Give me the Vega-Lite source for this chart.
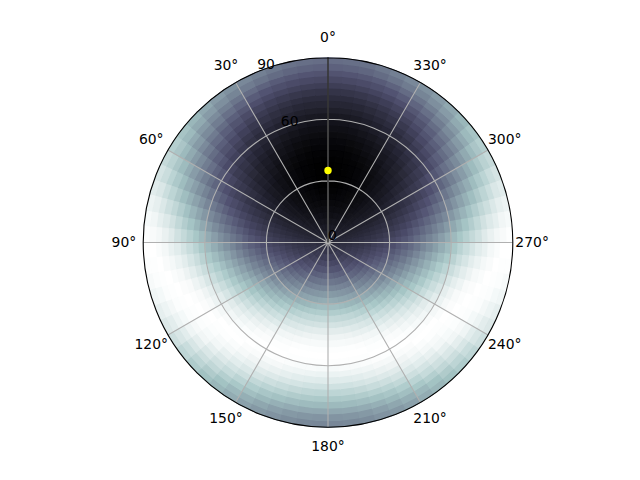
{
"$schema": "https://vega.github.io/schema/vega-lite/v6.json",
"width": 656, "height": 485,
"autosize": {"type": "none"},
"padding": 0,
"background": "white",
"config": {"view": {"stroke": null}, "font": "DejaVu Sans"},
"datasets": {
"cellsA": [
{"a":-5,"b":5,"r":0,"s":6,"v":16},{"a":-5,"b":5,"r":6,"s":12,"v":11},{"a":-5,"b":5,"r":12,"s":18,"v":6},{"a":-5,"b":5,"r":18,"s":24,"v":3},{"a":-5,"b":5,"r":24,"s":30,"v":1},{"a":-5,"b":5,"r":30,"s":36,"v":0},{"a":-5,"b":5,"r":36,"s":42,"v":0},{"a":-5,"b":5,"r":42,"s":48,"v":2},{"a":-5,"b":5,"r":48,"s":54,"v":4},{"a":-5,"b":5,"r":54,"s":60,"v":8},{"a":-5,"b":5,"r":60,"s":66,"v":12},{"a":-5,"b":5,"r":66,"s":72,"v":19},{"a":-5,"b":5,"r":72,"s":78,"v":26},{"a":-5,"b":5,"r":78,"s":84,"v":35},{"a":-5,"b":5,"r":84,"s":90,"v":45},
{"a":5,"b":15,"r":0,"s":6,"v":16},{"a":5,"b":15,"r":6,"s":12,"v":11},{"a":5,"b":15,"r":12,"s":18,"v":6},{"a":5,"b":15,"r":18,"s":24,"v":3},{"a":5,"b":15,"r":24,"s":30,"v":1},{"a":5,"b":15,"r":30,"s":36,"v":1},{"a":5,"b":15,"r":36,"s":42,"v":1},{"a":5,"b":15,"r":42,"s":48,"v":2},{"a":5,"b":15,"r":48,"s":54,"v":5},{"a":5,"b":15,"r":54,"s":60,"v":8},{"a":5,"b":15,"r":60,"s":66,"v":13},{"a":5,"b":15,"r":66,"s":72,"v":19},{"a":5,"b":15,"r":72,"s":78,"v":27},{"a":5,"b":15,"r":78,"s":84,"v":36},{"a":5,"b":15,"r":84,"s":90,"v":46},
{"a":15,"b":25,"r":0,"s":6,"v":17},{"a":15,"b":25,"r":6,"s":12,"v":11},{"a":15,"b":25,"r":12,"s":18,"v":7},{"a":15,"b":25,"r":18,"s":24,"v":4},{"a":15,"b":25,"r":24,"s":30,"v":3},{"a":15,"b":25,"r":30,"s":36,"v":2},{"a":15,"b":25,"r":36,"s":42,"v":2},{"a":15,"b":25,"r":42,"s":48,"v":4},{"a":15,"b":25,"r":48,"s":54,"v":7},{"a":15,"b":25,"r":54,"s":60,"v":11},{"a":15,"b":25,"r":60,"s":66,"v":16},{"a":15,"b":25,"r":66,"s":72,"v":22},{"a":15,"b":25,"r":72,"s":78,"v":30},{"a":15,"b":25,"r":78,"s":84,"v":39},{"a":15,"b":25,"r":84,"s":90,"v":50},
{"a":25,"b":35,"r":0,"s":6,"v":17},{"a":25,"b":35,"r":6,"s":12,"v":12},{"a":25,"b":35,"r":12,"s":18,"v":8},{"a":25,"b":35,"r":18,"s":24,"v":6},{"a":25,"b":35,"r":24,"s":30,"v":5},{"a":25,"b":35,"r":30,"s":36,"v":4},{"a":25,"b":35,"r":36,"s":42,"v":5},{"a":25,"b":35,"r":42,"s":48,"v":7},{"a":25,"b":35,"r":48,"s":54,"v":10},{"a":25,"b":35,"r":54,"s":60,"v":15},{"a":25,"b":35,"r":60,"s":66,"v":20},{"a":25,"b":35,"r":66,"s":72,"v":27},{"a":25,"b":35,"r":72,"s":78,"v":35},{"a":25,"b":35,"r":78,"s":84,"v":45},{"a":25,"b":35,"r":84,"s":90,"v":55},
{"a":35,"b":45,"r":0,"s":6,"v":17},{"a":35,"b":45,"r":6,"s":12,"v":13},{"a":35,"b":45,"r":12,"s":18,"v":10},{"a":35,"b":45,"r":18,"s":24,"v":8},{"a":35,"b":45,"r":24,"s":30,"v":7},{"a":35,"b":45,"r":30,"s":36,"v":8},{"a":35,"b":45,"r":36,"s":42,"v":9},{"a":35,"b":45,"r":42,"s":48,"v":12},{"a":35,"b":45,"r":48,"s":54,"v":15},{"a":35,"b":45,"r":54,"s":60,"v":20},{"a":35,"b":45,"r":60,"s":66,"v":26},{"a":35,"b":45,"r":66,"s":72,"v":34},{"a":35,"b":45,"r":72,"s":78,"v":42},{"a":35,"b":45,"r":78,"s":84,"v":52},{"a":35,"b":45,"r":84,"s":90,"v":62},
{"a":45,"b":55,"r":0,"s":6,"v":18},{"a":45,"b":55,"r":6,"s":12,"v":14},{"a":45,"b":55,"r":12,"s":18,"v":12},{"a":45,"b":55,"r":18,"s":24,"v":11},{"a":45,"b":55,"r":24,"s":30,"v":11},{"a":45,"b":55,"r":30,"s":36,"v":12},{"a":45,"b":55,"r":36,"s":42,"v":14},{"a":45,"b":55,"r":42,"s":48,"v":17},{"a":45,"b":55,"r":48,"s":54,"v":22},{"a":45,"b":55,"r":54,"s":60,"v":27},{"a":45,"b":55,"r":60,"s":66,"v":34},{"a":45,"b":55,"r":66,"s":72,"v":42},{"a":45,"b":55,"r":72,"s":78,"v":51},{"a":45,"b":55,"r":78,"s":84,"v":61},{"a":45,"b":55,"r":84,"s":90,"v":71},
{"a":55,"b":65,"r":0,"s":6,"v":18},{"a":55,"b":65,"r":6,"s":12,"v":16},{"a":55,"b":65,"r":12,"s":18,"v":14},{"a":55,"b":65,"r":18,"s":24,"v":14},{"a":55,"b":65,"r":24,"s":30,"v":15},{"a":55,"b":65,"r":30,"s":36,"v":17},{"a":55,"b":65,"r":36,"s":42,"v":20},{"a":55,"b":65,"r":42,"s":48,"v":24},{"a":55,"b":65,"r":48,"s":54,"v":29},{"a":55,"b":65,"r":54,"s":60,"v":36},{"a":55,"b":65,"r":60,"s":66,"v":43},{"a":55,"b":65,"r":66,"s":72,"v":52},{"a":55,"b":65,"r":72,"s":78,"v":61},{"a":55,"b":65,"r":78,"s":84,"v":71},{"a":55,"b":65,"r":84,"s":90,"v":80},
{"a":65,"b":75,"r":0,"s":6,"v":19},{"a":65,"b":75,"r":6,"s":12,"v":17},{"a":65,"b":75,"r":12,"s":18,"v":17},{"a":65,"b":75,"r":18,"s":24,"v":18},{"a":65,"b":75,"r":24,"s":30,"v":20},{"a":65,"b":75,"r":30,"s":36,"v":23},{"a":65,"b":75,"r":36,"s":42,"v":27},{"a":65,"b":75,"r":42,"s":48,"v":32},{"a":65,"b":75,"r":48,"s":54,"v":38},{"a":65,"b":75,"r":54,"s":60,"v":46},{"a":65,"b":75,"r":60,"s":66,"v":54},{"a":65,"b":75,"r":66,"s":72,"v":63},{"a":65,"b":75,"r":72,"s":78,"v":72},{"a":65,"b":75,"r":78,"s":84,"v":81},{"a":65,"b":75,"r":84,"s":90,"v":89},
{"a":75,"b":85,"r":0,"s":6,"v":19},{"a":75,"b":85,"r":6,"s":12,"v":19},{"a":75,"b":85,"r":12,"s":18,"v":20},{"a":75,"b":85,"r":18,"s":24,"v":22},{"a":75,"b":85,"r":24,"s":30,"v":25},{"a":75,"b":85,"r":30,"s":36,"v":29},{"a":75,"b":85,"r":36,"s":42,"v":34},{"a":75,"b":85,"r":42,"s":48,"v":41},{"a":75,"b":85,"r":48,"s":54,"v":48},{"a":75,"b":85,"r":54,"s":60,"v":56},{"a":75,"b":85,"r":60,"s":66,"v":65},{"a":75,"b":85,"r":66,"s":72,"v":74},{"a":75,"b":85,"r":72,"s":78,"v":83},{"a":75,"b":85,"r":78,"s":84,"v":90},{"a":75,"b":85,"r":84,"s":90,"v":96},
{"a":85,"b":95,"r":0,"s":6,"v":20},{"a":85,"b":95,"r":6,"s":12,"v":21},{"a":85,"b":95,"r":12,"s":18,"v":23},{"a":85,"b":95,"r":18,"s":24,"v":26},{"a":85,"b":95,"r":24,"s":30,"v":30},{"a":85,"b":95,"r":30,"s":36,"v":36},{"a":85,"b":95,"r":36,"s":42,"v":42},{"a":85,"b":95,"r":42,"s":48,"v":50},{"a":85,"b":95,"r":48,"s":54,"v":58},{"a":85,"b":95,"r":54,"s":60,"v":67},{"a":85,"b":95,"r":60,"s":66,"v":76},{"a":85,"b":95,"r":66,"s":72,"v":84},{"a":85,"b":95,"r":72,"s":78,"v":91},{"a":85,"b":95,"r":78,"s":84,"v":97},{"a":85,"b":95,"r":84,"s":90,"v":100},
{"a":95,"b":105,"r":0,"s":6,"v":20},{"a":95,"b":105,"r":6,"s":12,"v":23},{"a":95,"b":105,"r":12,"s":18,"v":26},{"a":95,"b":105,"r":18,"s":24,"v":31},{"a":95,"b":105,"r":24,"s":30,"v":36},{"a":95,"b":105,"r":30,"s":36,"v":43},{"a":95,"b":105,"r":36,"s":42,"v":50},{"a":95,"b":105,"r":42,"s":48,"v":59},{"a":95,"b":105,"r":48,"s":54,"v":68},{"a":95,"b":105,"r":54,"s":60,"v":77},{"a":95,"b":105,"r":60,"s":66,"v":85},{"a":95,"b":105,"r":66,"s":72,"v":92},{"a":95,"b":105,"r":72,"s":78,"v":97},{"a":95,"b":105,"r":78,"s":84,"v":100},{"a":95,"b":105,"r":84,"s":90,"v":99},
{"a":105,"b":115,"r":0,"s":6,"v":21},{"a":105,"b":115,"r":6,"s":12,"v":25},{"a":105,"b":115,"r":12,"s":18,"v":29},{"a":105,"b":115,"r":18,"s":24,"v":35},{"a":105,"b":115,"r":24,"s":30,"v":42},{"a":105,"b":115,"r":30,"s":36,"v":50},{"a":105,"b":115,"r":36,"s":42,"v":58},{"a":105,"b":115,"r":42,"s":48,"v":67},{"a":105,"b":115,"r":48,"s":54,"v":77},{"a":105,"b":115,"r":54,"s":60,"v":85},{"a":105,"b":115,"r":60,"s":66,"v":93},{"a":105,"b":115,"r":66,"s":72,"v":98},{"a":105,"b":115,"r":72,"s":78,"v":100},{"a":105,"b":115,"r":78,"s":84,"v":99},{"a":105,"b":115,"r":84,"s":90,"v":95},
{"a":115,"b":125,"r":0,"s":6,"v":22},{"a":115,"b":125,"r":6,"s":12,"v":26},{"a":115,"b":125,"r":12,"s":18,"v":32},{"a":115,"b":125,"r":18,"s":24,"v":39},{"a":115,"b":125,"r":24,"s":30,"v":47},{"a":115,"b":125,"r":30,"s":36,"v":56},{"a":115,"b":125,"r":36,"s":42,"v":66},{"a":115,"b":125,"r":42,"s":48,"v":75},{"a":115,"b":125,"r":48,"s":54,"v":84},{"a":115,"b":125,"r":54,"s":60,"v":92},{"a":115,"b":125,"r":60,"s":66,"v":97},{"a":115,"b":125,"r":66,"s":72,"v":100},{"a":115,"b":125,"r":72,"s":78,"v":99},{"a":115,"b":125,"r":78,"s":84,"v":95},{"a":115,"b":125,"r":84,"s":90,"v":89},
{"a":125,"b":135,"r":0,"s":6,"v":22},{"a":125,"b":135,"r":6,"s":12,"v":28},{"a":125,"b":135,"r":12,"s":18,"v":35},{"a":125,"b":135,"r":18,"s":24,"v":43},{"a":125,"b":135,"r":24,"s":30,"v":52},{"a":125,"b":135,"r":30,"s":36,"v":62},{"a":125,"b":135,"r":36,"s":42,"v":72},{"a":125,"b":135,"r":42,"s":48,"v":82},{"a":125,"b":135,"r":48,"s":54,"v":90},{"a":125,"b":135,"r":54,"s":60,"v":96},{"a":125,"b":135,"r":60,"s":66,"v":100},{"a":125,"b":135,"r":66,"s":72,"v":99},{"a":125,"b":135,"r":72,"s":78,"v":96},{"a":125,"b":135,"r":78,"s":84,"v":89},{"a":125,"b":135,"r":84,"s":90,"v":81},
{"a":135,"b":145,"r":0,"s":6,"v":23},{"a":135,"b":145,"r":6,"s":12,"v":29},{"a":135,"b":145,"r":12,"s":18,"v":37},{"a":135,"b":145,"r":18,"s":24,"v":46},{"a":135,"b":145,"r":24,"s":30,"v":56},{"a":135,"b":145,"r":30,"s":36,"v":67},{"a":135,"b":145,"r":36,"s":42,"v":77},{"a":135,"b":145,"r":42,"s":48,"v":87},{"a":135,"b":145,"r":48,"s":54,"v":94},{"a":135,"b":145,"r":54,"s":60,"v":99},{"a":135,"b":145,"r":60,"s":66,"v":100},{"a":135,"b":145,"r":66,"s":72,"v":97},{"a":135,"b":145,"r":72,"s":78,"v":91},{"a":135,"b":145,"r":78,"s":84,"v":83},{"a":135,"b":145,"r":84,"s":90,"v":73},
{"a":145,"b":155,"r":0,"s":6,"v":23},{"a":145,"b":155,"r":6,"s":12,"v":30},{"a":145,"b":155,"r":12,"s":18,"v":39},{"a":145,"b":155,"r":18,"s":24,"v":49},{"a":145,"b":155,"r":24,"s":30,"v":59},{"a":145,"b":155,"r":30,"s":36,"v":70},{"a":145,"b":155,"r":36,"s":42,"v":81},{"a":145,"b":155,"r":42,"s":48,"v":90},{"a":145,"b":155,"r":48,"s":54,"v":97},{"a":145,"b":155,"r":54,"s":60,"v":100},{"a":145,"b":155,"r":60,"s":66,"v":99},{"a":145,"b":155,"r":66,"s":72,"v":94},{"a":145,"b":155,"r":72,"s":78,"v":87},{"a":145,"b":155,"r":78,"s":84,"v":77},{"a":145,"b":155,"r":84,"s":90,"v":66},
{"a":155,"b":165,"r":0,"s":6,"v":23},{"a":155,"b":165,"r":6,"s":12,"v":31},{"a":155,"b":165,"r":12,"s":18,"v":40},{"a":155,"b":165,"r":18,"s":24,"v":51},{"a":155,"b":165,"r":24,"s":30,"v":62},{"a":155,"b":165,"r":30,"s":36,"v":73},{"a":155,"b":165,"r":36,"s":42,"v":84},{"a":155,"b":165,"r":42,"s":48,"v":92},{"a":155,"b":165,"r":48,"s":54,"v":98},{"a":155,"b":165,"r":54,"s":60,"v":100},{"a":155,"b":165,"r":60,"s":66,"v":98},{"a":155,"b":165,"r":66,"s":72,"v":92},{"a":155,"b":165,"r":72,"s":78,"v":83},{"a":155,"b":165,"r":78,"s":84,"v":72},{"a":155,"b":165,"r":84,"s":90,"v":61},
{"a":165,"b":175,"r":0,"s":6,"v":23},{"a":165,"b":175,"r":6,"s":12,"v":32},{"a":165,"b":175,"r":12,"s":18,"v":41},{"a":165,"b":175,"r":18,"s":24,"v":52},{"a":165,"b":175,"r":24,"s":30,"v":63},{"a":165,"b":175,"r":30,"s":36,"v":75},{"a":165,"b":175,"r":36,"s":42,"v":85},{"a":165,"b":175,"r":42,"s":48,"v":94},{"a":165,"b":175,"r":48,"s":54,"v":99},{"a":165,"b":175,"r":54,"s":60,"v":100},{"a":165,"b":175,"r":60,"s":66,"v":97},{"a":165,"b":175,"r":66,"s":72,"v":90},{"a":165,"b":175,"r":72,"s":78,"v":80},{"a":165,"b":175,"r":78,"s":84,"v":69},{"a":165,"b":175,"r":84,"s":90,"v":57},
{"a":175,"b":185,"r":0,"s":6,"v":23},{"a":175,"b":185,"r":6,"s":12,"v":32},{"a":175,"b":185,"r":12,"s":18,"v":42},{"a":175,"b":185,"r":18,"s":24,"v":52},{"a":175,"b":185,"r":24,"s":30,"v":64},{"a":175,"b":185,"r":30,"s":36,"v":75},{"a":175,"b":185,"r":36,"s":42,"v":86},{"a":175,"b":185,"r":42,"s":48,"v":94},{"a":175,"b":185,"r":48,"s":54,"v":99},{"a":175,"b":185,"r":54,"s":60,"v":100},{"a":175,"b":185,"r":60,"s":66,"v":96},{"a":175,"b":185,"r":66,"s":72,"v":89},{"a":175,"b":185,"r":72,"s":78,"v":79},{"a":175,"b":185,"r":78,"s":84,"v":68},{"a":175,"b":185,"r":84,"s":90,"v":56},
{"a":185,"b":195,"r":0,"s":6,"v":23},{"a":185,"b":195,"r":6,"s":12,"v":32},{"a":185,"b":195,"r":12,"s":18,"v":41},{"a":185,"b":195,"r":18,"s":24,"v":52},{"a":185,"b":195,"r":24,"s":30,"v":63},{"a":185,"b":195,"r":30,"s":36,"v":75},{"a":185,"b":195,"r":36,"s":42,"v":85},{"a":185,"b":195,"r":42,"s":48,"v":94},{"a":185,"b":195,"r":48,"s":54,"v":99},{"a":185,"b":195,"r":54,"s":60,"v":100},{"a":185,"b":195,"r":60,"s":66,"v":97},{"a":185,"b":195,"r":66,"s":72,"v":90},{"a":185,"b":195,"r":72,"s":78,"v":80},{"a":185,"b":195,"r":78,"s":84,"v":69},{"a":185,"b":195,"r":84,"s":90,"v":57},
{"a":195,"b":205,"r":0,"s":6,"v":23},{"a":195,"b":205,"r":6,"s":12,"v":31},{"a":195,"b":205,"r":12,"s":18,"v":40},{"a":195,"b":205,"r":18,"s":24,"v":51},{"a":195,"b":205,"r":24,"s":30,"v":62},{"a":195,"b":205,"r":30,"s":36,"v":73},{"a":195,"b":205,"r":36,"s":42,"v":84},{"a":195,"b":205,"r":42,"s":48,"v":92},{"a":195,"b":205,"r":48,"s":54,"v":98},{"a":195,"b":205,"r":54,"s":60,"v":100},{"a":195,"b":205,"r":60,"s":66,"v":98},{"a":195,"b":205,"r":66,"s":72,"v":92},{"a":195,"b":205,"r":72,"s":78,"v":83},{"a":195,"b":205,"r":78,"s":84,"v":72},{"a":195,"b":205,"r":84,"s":90,"v":61},
{"a":205,"b":215,"r":0,"s":6,"v":23},{"a":205,"b":215,"r":6,"s":12,"v":30},{"a":205,"b":215,"r":12,"s":18,"v":39},{"a":205,"b":215,"r":18,"s":24,"v":49},{"a":205,"b":215,"r":24,"s":30,"v":59},{"a":205,"b":215,"r":30,"s":36,"v":70},{"a":205,"b":215,"r":36,"s":42,"v":81},{"a":205,"b":215,"r":42,"s":48,"v":90},{"a":205,"b":215,"r":48,"s":54,"v":97},{"a":205,"b":215,"r":54,"s":60,"v":100},{"a":205,"b":215,"r":60,"s":66,"v":99},{"a":205,"b":215,"r":66,"s":72,"v":94},{"a":205,"b":215,"r":72,"s":78,"v":87},{"a":205,"b":215,"r":78,"s":84,"v":77},{"a":205,"b":215,"r":84,"s":90,"v":66},
{"a":215,"b":225,"r":0,"s":6,"v":23},{"a":215,"b":225,"r":6,"s":12,"v":29},{"a":215,"b":225,"r":12,"s":18,"v":37},{"a":215,"b":225,"r":18,"s":24,"v":46},{"a":215,"b":225,"r":24,"s":30,"v":56},{"a":215,"b":225,"r":30,"s":36,"v":67},{"a":215,"b":225,"r":36,"s":42,"v":77},{"a":215,"b":225,"r":42,"s":48,"v":87},{"a":215,"b":225,"r":48,"s":54,"v":94},{"a":215,"b":225,"r":54,"s":60,"v":99},{"a":215,"b":225,"r":60,"s":66,"v":100},{"a":215,"b":225,"r":66,"s":72,"v":97},{"a":215,"b":225,"r":72,"s":78,"v":91},{"a":215,"b":225,"r":78,"s":84,"v":83},{"a":215,"b":225,"r":84,"s":90,"v":73},
{"a":225,"b":235,"r":0,"s":6,"v":22},{"a":225,"b":235,"r":6,"s":12,"v":28},{"a":225,"b":235,"r":12,"s":18,"v":35},{"a":225,"b":235,"r":18,"s":24,"v":43},{"a":225,"b":235,"r":24,"s":30,"v":52},{"a":225,"b":235,"r":30,"s":36,"v":62},{"a":225,"b":235,"r":36,"s":42,"v":72},{"a":225,"b":235,"r":42,"s":48,"v":82},{"a":225,"b":235,"r":48,"s":54,"v":90},{"a":225,"b":235,"r":54,"s":60,"v":96},{"a":225,"b":235,"r":60,"s":66,"v":100},{"a":225,"b":235,"r":66,"s":72,"v":99},{"a":225,"b":235,"r":72,"s":78,"v":96},{"a":225,"b":235,"r":78,"s":84,"v":89},{"a":225,"b":235,"r":84,"s":90,"v":81},
{"a":235,"b":245,"r":0,"s":6,"v":22},{"a":235,"b":245,"r":6,"s":12,"v":26},{"a":235,"b":245,"r":12,"s":18,"v":32},{"a":235,"b":245,"r":18,"s":24,"v":39},{"a":235,"b":245,"r":24,"s":30,"v":47},{"a":235,"b":245,"r":30,"s":36,"v":56},{"a":235,"b":245,"r":36,"s":42,"v":66},{"a":235,"b":245,"r":42,"s":48,"v":75},{"a":235,"b":245,"r":48,"s":54,"v":84},{"a":235,"b":245,"r":54,"s":60,"v":92},{"a":235,"b":245,"r":60,"s":66,"v":97},{"a":235,"b":245,"r":66,"s":72,"v":100},{"a":235,"b":245,"r":72,"s":78,"v":99},{"a":235,"b":245,"r":78,"s":84,"v":95},{"a":235,"b":245,"r":84,"s":90,"v":89},
{"a":245,"b":255,"r":0,"s":6,"v":21},{"a":245,"b":255,"r":6,"s":12,"v":25},{"a":245,"b":255,"r":12,"s":18,"v":29},{"a":245,"b":255,"r":18,"s":24,"v":35},{"a":245,"b":255,"r":24,"s":30,"v":42},{"a":245,"b":255,"r":30,"s":36,"v":50},{"a":245,"b":255,"r":36,"s":42,"v":58},{"a":245,"b":255,"r":42,"s":48,"v":67},{"a":245,"b":255,"r":48,"s":54,"v":77},{"a":245,"b":255,"r":54,"s":60,"v":85},{"a":245,"b":255,"r":60,"s":66,"v":93},{"a":245,"b":255,"r":66,"s":72,"v":98},{"a":245,"b":255,"r":72,"s":78,"v":100},{"a":245,"b":255,"r":78,"s":84,"v":99},{"a":245,"b":255,"r":84,"s":90,"v":95},
{"a":255,"b":265,"r":0,"s":6,"v":20},{"a":255,"b":265,"r":6,"s":12,"v":23},{"a":255,"b":265,"r":12,"s":18,"v":26},{"a":255,"b":265,"r":18,"s":24,"v":31},{"a":255,"b":265,"r":24,"s":30,"v":36},{"a":255,"b":265,"r":30,"s":36,"v":43},{"a":255,"b":265,"r":36,"s":42,"v":50},{"a":255,"b":265,"r":42,"s":48,"v":59},{"a":255,"b":265,"r":48,"s":54,"v":68},{"a":255,"b":265,"r":54,"s":60,"v":77},{"a":255,"b":265,"r":60,"s":66,"v":85},{"a":255,"b":265,"r":66,"s":72,"v":92},{"a":255,"b":265,"r":72,"s":78,"v":97},{"a":255,"b":265,"r":78,"s":84,"v":100},{"a":255,"b":265,"r":84,"s":90,"v":99},
{"a":265,"b":275,"r":0,"s":6,"v":20},{"a":265,"b":275,"r":6,"s":12,"v":21},{"a":265,"b":275,"r":12,"s":18,"v":23},{"a":265,"b":275,"r":18,"s":24,"v":26},{"a":265,"b":275,"r":24,"s":30,"v":30},{"a":265,"b":275,"r":30,"s":36,"v":36},{"a":265,"b":275,"r":36,"s":42,"v":42},{"a":265,"b":275,"r":42,"s":48,"v":50},{"a":265,"b":275,"r":48,"s":54,"v":58},{"a":265,"b":275,"r":54,"s":60,"v":67},{"a":265,"b":275,"r":60,"s":66,"v":76},{"a":265,"b":275,"r":66,"s":72,"v":84},{"a":265,"b":275,"r":72,"s":78,"v":91},{"a":265,"b":275,"r":78,"s":84,"v":97},{"a":265,"b":275,"r":84,"s":90,"v":100},
{"a":275,"b":285,"r":0,"s":6,"v":19},{"a":275,"b":285,"r":6,"s":12,"v":19},{"a":275,"b":285,"r":12,"s":18,"v":20},{"a":275,"b":285,"r":18,"s":24,"v":22},{"a":275,"b":285,"r":24,"s":30,"v":25},{"a":275,"b":285,"r":30,"s":36,"v":29},{"a":275,"b":285,"r":36,"s":42,"v":34},{"a":275,"b":285,"r":42,"s":48,"v":41},{"a":275,"b":285,"r":48,"s":54,"v":48},{"a":275,"b":285,"r":54,"s":60,"v":56},{"a":275,"b":285,"r":60,"s":66,"v":65},{"a":275,"b":285,"r":66,"s":72,"v":74},{"a":275,"b":285,"r":72,"s":78,"v":83},{"a":275,"b":285,"r":78,"s":84,"v":90},{"a":275,"b":285,"r":84,"s":90,"v":96},
{"a":285,"b":295,"r":0,"s":6,"v":19},{"a":285,"b":295,"r":6,"s":12,"v":17},{"a":285,"b":295,"r":12,"s":18,"v":17},{"a":285,"b":295,"r":18,"s":24,"v":18},{"a":285,"b":295,"r":24,"s":30,"v":20},{"a":285,"b":295,"r":30,"s":36,"v":23},{"a":285,"b":295,"r":36,"s":42,"v":27},{"a":285,"b":295,"r":42,"s":48,"v":32},{"a":285,"b":295,"r":48,"s":54,"v":38},{"a":285,"b":295,"r":54,"s":60,"v":46},{"a":285,"b":295,"r":60,"s":66,"v":54},{"a":285,"b":295,"r":66,"s":72,"v":63},{"a":285,"b":295,"r":72,"s":78,"v":72},{"a":285,"b":295,"r":78,"s":84,"v":81},{"a":285,"b":295,"r":84,"s":90,"v":89},
{"a":295,"b":305,"r":0,"s":6,"v":18},{"a":295,"b":305,"r":6,"s":12,"v":16},{"a":295,"b":305,"r":12,"s":18,"v":14},{"a":295,"b":305,"r":18,"s":24,"v":14},{"a":295,"b":305,"r":24,"s":30,"v":15},{"a":295,"b":305,"r":30,"s":36,"v":17},{"a":295,"b":305,"r":36,"s":42,"v":20},{"a":295,"b":305,"r":42,"s":48,"v":24},{"a":295,"b":305,"r":48,"s":54,"v":29},{"a":295,"b":305,"r":54,"s":60,"v":36},{"a":295,"b":305,"r":60,"s":66,"v":43},{"a":295,"b":305,"r":66,"s":72,"v":52},{"a":295,"b":305,"r":72,"s":78,"v":61},{"a":295,"b":305,"r":78,"s":84,"v":71},{"a":295,"b":305,"r":84,"s":90,"v":80},
{"a":305,"b":315,"r":0,"s":6,"v":18},{"a":305,"b":315,"r":6,"s":12,"v":14},{"a":305,"b":315,"r":12,"s":18,"v":12},{"a":305,"b":315,"r":18,"s":24,"v":11},{"a":305,"b":315,"r":24,"s":30,"v":11},{"a":305,"b":315,"r":30,"s":36,"v":12},{"a":305,"b":315,"r":36,"s":42,"v":14},{"a":305,"b":315,"r":42,"s":48,"v":17},{"a":305,"b":315,"r":48,"s":54,"v":22},{"a":305,"b":315,"r":54,"s":60,"v":27},{"a":305,"b":315,"r":60,"s":66,"v":34},{"a":305,"b":315,"r":66,"s":72,"v":42},{"a":305,"b":315,"r":72,"s":78,"v":51},{"a":305,"b":315,"r":78,"s":84,"v":61},{"a":305,"b":315,"r":84,"s":90,"v":71},
{"a":315,"b":325,"r":0,"s":6,"v":17},{"a":315,"b":325,"r":6,"s":12,"v":13},{"a":315,"b":325,"r":12,"s":18,"v":10},{"a":315,"b":325,"r":18,"s":24,"v":8},{"a":315,"b":325,"r":24,"s":30,"v":7},{"a":315,"b":325,"r":30,"s":36,"v":8},{"a":315,"b":325,"r":36,"s":42,"v":9},{"a":315,"b":325,"r":42,"s":48,"v":12},{"a":315,"b":325,"r":48,"s":54,"v":15},{"a":315,"b":325,"r":54,"s":60,"v":20},{"a":315,"b":325,"r":60,"s":66,"v":26},{"a":315,"b":325,"r":66,"s":72,"v":34},{"a":315,"b":325,"r":72,"s":78,"v":42},{"a":315,"b":325,"r":78,"s":84,"v":52},{"a":315,"b":325,"r":84,"s":90,"v":62},
{"a":325,"b":335,"r":0,"s":6,"v":17},{"a":325,"b":335,"r":6,"s":12,"v":12},{"a":325,"b":335,"r":12,"s":18,"v":8},{"a":325,"b":335,"r":18,"s":24,"v":6},{"a":325,"b":335,"r":24,"s":30,"v":5},{"a":325,"b":335,"r":30,"s":36,"v":4},{"a":325,"b":335,"r":36,"s":42,"v":5},{"a":325,"b":335,"r":42,"s":48,"v":7},{"a":325,"b":335,"r":48,"s":54,"v":10},{"a":325,"b":335,"r":54,"s":60,"v":15},{"a":325,"b":335,"r":60,"s":66,"v":20},{"a":325,"b":335,"r":66,"s":72,"v":27},{"a":325,"b":335,"r":72,"s":78,"v":35},{"a":325,"b":335,"r":78,"s":84,"v":45},{"a":325,"b":335,"r":84,"s":90,"v":55},
{"a":335,"b":345,"r":0,"s":6,"v":17},{"a":335,"b":345,"r":6,"s":12,"v":11},{"a":335,"b":345,"r":12,"s":18,"v":7},{"a":335,"b":345,"r":18,"s":24,"v":4},{"a":335,"b":345,"r":24,"s":30,"v":3},{"a":335,"b":345,"r":30,"s":36,"v":2},{"a":335,"b":345,"r":36,"s":42,"v":2},{"a":335,"b":345,"r":42,"s":48,"v":4},{"a":335,"b":345,"r":48,"s":54,"v":7},{"a":335,"b":345,"r":54,"s":60,"v":11},{"a":335,"b":345,"r":60,"s":66,"v":16},{"a":335,"b":345,"r":66,"s":72,"v":22},{"a":335,"b":345,"r":72,"s":78,"v":30},{"a":335,"b":345,"r":78,"s":84,"v":39},{"a":335,"b":345,"r":84,"s":90,"v":50},
{"a":345,"b":355,"r":0,"s":6,"v":16},{"a":345,"b":355,"r":6,"s":12,"v":11},{"a":345,"b":355,"r":12,"s":18,"v":6},{"a":345,"b":355,"r":18,"s":24,"v":3},{"a":345,"b":355,"r":24,"s":30,"v":1},{"a":345,"b":355,"r":30,"s":36,"v":1},{"a":345,"b":355,"r":36,"s":42,"v":1},{"a":345,"b":355,"r":42,"s":48,"v":2},{"a":345,"b":355,"r":48,"s":54,"v":5},{"a":345,"b":355,"r":54,"s":60,"v":8},{"a":345,"b":355,"r":60,"s":66,"v":13},{"a":345,"b":355,"r":66,"s":72,"v":19},{"a":345,"b":355,"r":72,"s":78,"v":27},{"a":345,"b":355,"r":78,"s":84,"v":36},{"a":345,"b":355,"r":84,"s":90,"v":46}
],
"cellsB": [
{"a":0,"b":10,"r":0,"s":3,"v":18},{"a":0,"b":10,"r":3,"s":9,"v":13},{"a":0,"b":10,"r":9,"s":15,"v":8},{"a":0,"b":10,"r":15,"s":21,"v":5},{"a":0,"b":10,"r":21,"s":27,"v":2},{"a":0,"b":10,"r":27,"s":33,"v":0},{"a":0,"b":10,"r":33,"s":39,"v":0},{"a":0,"b":10,"r":39,"s":45,"v":1},{"a":0,"b":10,"r":45,"s":51,"v":3},{"a":0,"b":10,"r":51,"s":57,"v":6},{"a":0,"b":10,"r":57,"s":63,"v":10},{"a":0,"b":10,"r":63,"s":69,"v":16},{"a":0,"b":10,"r":69,"s":75,"v":22},{"a":0,"b":10,"r":75,"s":81,"v":31},{"a":0,"b":10,"r":81,"s":87,"v":40},{"a":0,"b":10,"r":87,"s":90,"v":48},
{"a":10,"b":20,"r":0,"s":3,"v":18},{"a":10,"b":20,"r":3,"s":9,"v":14},{"a":10,"b":20,"r":9,"s":15,"v":9},{"a":10,"b":20,"r":15,"s":21,"v":5},{"a":10,"b":20,"r":21,"s":27,"v":3},{"a":10,"b":20,"r":27,"s":33,"v":1},{"a":10,"b":20,"r":33,"s":39,"v":1},{"a":10,"b":20,"r":39,"s":45,"v":2},{"a":10,"b":20,"r":45,"s":51,"v":4},{"a":10,"b":20,"r":51,"s":57,"v":7},{"a":10,"b":20,"r":57,"s":63,"v":12},{"a":10,"b":20,"r":63,"s":69,"v":17},{"a":10,"b":20,"r":69,"s":75,"v":24},{"a":10,"b":20,"r":75,"s":81,"v":33},{"a":10,"b":20,"r":81,"s":87,"v":42},{"a":10,"b":20,"r":87,"s":90,"v":50},
{"a":20,"b":30,"r":0,"s":3,"v":18},{"a":20,"b":30,"r":3,"s":9,"v":14},{"a":20,"b":30,"r":9,"s":15,"v":9},{"a":20,"b":30,"r":15,"s":21,"v":6},{"a":20,"b":30,"r":21,"s":27,"v":4},{"a":20,"b":30,"r":27,"s":33,"v":3},{"a":20,"b":30,"r":33,"s":39,"v":3},{"a":20,"b":30,"r":39,"s":45,"v":4},{"a":20,"b":30,"r":45,"s":51,"v":7},{"a":20,"b":30,"r":51,"s":57,"v":10},{"a":20,"b":30,"r":57,"s":63,"v":15},{"a":20,"b":30,"r":63,"s":69,"v":21},{"a":20,"b":30,"r":69,"s":75,"v":28},{"a":20,"b":30,"r":75,"s":81,"v":37},{"a":20,"b":30,"r":81,"s":87,"v":47},{"a":20,"b":30,"r":87,"s":90,"v":55},
{"a":30,"b":40,"r":0,"s":3,"v":18},{"a":30,"b":40,"r":3,"s":9,"v":15},{"a":30,"b":40,"r":9,"s":15,"v":11},{"a":30,"b":40,"r":15,"s":21,"v":8},{"a":30,"b":40,"r":21,"s":27,"v":6},{"a":30,"b":40,"r":27,"s":33,"v":6},{"a":30,"b":40,"r":33,"s":39,"v":6},{"a":30,"b":40,"r":39,"s":45,"v":8},{"a":30,"b":40,"r":45,"s":51,"v":11},{"a":30,"b":40,"r":51,"s":57,"v":15},{"a":30,"b":40,"r":57,"s":63,"v":20},{"a":30,"b":40,"r":63,"s":69,"v":26},{"a":30,"b":40,"r":69,"s":75,"v":34},{"a":30,"b":40,"r":75,"s":81,"v":43},{"a":30,"b":40,"r":81,"s":87,"v":53},{"a":30,"b":40,"r":87,"s":90,"v":61},
{"a":40,"b":50,"r":0,"s":3,"v":18},{"a":40,"b":50,"r":3,"s":9,"v":15},{"a":40,"b":50,"r":9,"s":15,"v":12},{"a":40,"b":50,"r":15,"s":21,"v":10},{"a":40,"b":50,"r":21,"s":27,"v":9},{"a":40,"b":50,"r":27,"s":33,"v":9},{"a":40,"b":50,"r":33,"s":39,"v":10},{"a":40,"b":50,"r":39,"s":45,"v":13},{"a":40,"b":50,"r":45,"s":51,"v":16},{"a":40,"b":50,"r":51,"s":57,"v":21},{"a":40,"b":50,"r":57,"s":63,"v":27},{"a":40,"b":50,"r":63,"s":69,"v":34},{"a":40,"b":50,"r":69,"s":75,"v":42},{"a":40,"b":50,"r":75,"s":81,"v":51},{"a":40,"b":50,"r":81,"s":87,"v":61},{"a":40,"b":50,"r":87,"s":90,"v":69},
{"a":50,"b":60,"r":0,"s":3,"v":19},{"a":50,"b":60,"r":3,"s":9,"v":16},{"a":50,"b":60,"r":9,"s":15,"v":14},{"a":50,"b":60,"r":15,"s":21,"v":13},{"a":50,"b":60,"r":21,"s":27,"v":12},{"a":50,"b":60,"r":27,"s":33,"v":13},{"a":50,"b":60,"r":33,"s":39,"v":15},{"a":50,"b":60,"r":39,"s":45,"v":19},{"a":50,"b":60,"r":45,"s":51,"v":23},{"a":50,"b":60,"r":51,"s":57,"v":28},{"a":50,"b":60,"r":57,"s":63,"v":35},{"a":50,"b":60,"r":63,"s":69,"v":43},{"a":50,"b":60,"r":69,"s":75,"v":51},{"a":50,"b":60,"r":75,"s":81,"v":61},{"a":50,"b":60,"r":81,"s":87,"v":71},{"a":50,"b":60,"r":87,"s":90,"v":78},
{"a":60,"b":70,"r":0,"s":3,"v":19},{"a":60,"b":70,"r":3,"s":9,"v":17},{"a":60,"b":70,"r":9,"s":15,"v":16},{"a":60,"b":70,"r":15,"s":21,"v":16},{"a":60,"b":70,"r":21,"s":27,"v":16},{"a":60,"b":70,"r":27,"s":33,"v":18},{"a":60,"b":70,"r":33,"s":39,"v":21},{"a":60,"b":70,"r":39,"s":45,"v":25},{"a":60,"b":70,"r":45,"s":51,"v":31},{"a":60,"b":70,"r":51,"s":57,"v":37},{"a":60,"b":70,"r":57,"s":63,"v":45},{"a":60,"b":70,"r":63,"s":69,"v":53},{"a":60,"b":70,"r":69,"s":75,"v":62},{"a":60,"b":70,"r":75,"s":81,"v":72},{"a":60,"b":70,"r":81,"s":87,"v":81},{"a":60,"b":70,"r":87,"s":90,"v":87},
{"a":70,"b":80,"r":0,"s":3,"v":19},{"a":70,"b":80,"r":3,"s":9,"v":18},{"a":70,"b":80,"r":9,"s":15,"v":18},{"a":70,"b":80,"r":15,"s":21,"v":19},{"a":70,"b":80,"r":21,"s":27,"v":21},{"a":70,"b":80,"r":27,"s":33,"v":24},{"a":70,"b":80,"r":33,"s":39,"v":28},{"a":70,"b":80,"r":39,"s":45,"v":33},{"a":70,"b":80,"r":45,"s":51,"v":40},{"a":70,"b":80,"r":51,"s":57,"v":47},{"a":70,"b":80,"r":57,"s":63,"v":55},{"a":70,"b":80,"r":63,"s":69,"v":64},{"a":70,"b":80,"r":69,"s":75,"v":73},{"a":70,"b":80,"r":75,"s":81,"v":82},{"a":70,"b":80,"r":81,"s":87,"v":90},{"a":70,"b":80,"r":87,"s":90,"v":94},
{"a":80,"b":90,"r":0,"s":3,"v":20},{"a":80,"b":90,"r":3,"s":9,"v":20},{"a":80,"b":90,"r":9,"s":15,"v":21},{"a":80,"b":90,"r":15,"s":21,"v":23},{"a":80,"b":90,"r":21,"s":27,"v":26},{"a":80,"b":90,"r":27,"s":33,"v":30},{"a":80,"b":90,"r":33,"s":39,"v":35},{"a":80,"b":90,"r":39,"s":45,"v":42},{"a":80,"b":90,"r":45,"s":51,"v":49},{"a":80,"b":90,"r":51,"s":57,"v":57},{"a":80,"b":90,"r":57,"s":63,"v":66},{"a":80,"b":90,"r":63,"s":69,"v":75},{"a":80,"b":90,"r":69,"s":75,"v":83},{"a":80,"b":90,"r":75,"s":81,"v":91},{"a":80,"b":90,"r":81,"s":87,"v":96},{"a":80,"b":90,"r":87,"s":90,"v":99},
{"a":90,"b":100,"r":0,"s":3,"v":20},{"a":90,"b":100,"r":3,"s":9,"v":21},{"a":90,"b":100,"r":9,"s":15,"v":23},{"a":90,"b":100,"r":15,"s":21,"v":26},{"a":90,"b":100,"r":21,"s":27,"v":31},{"a":90,"b":100,"r":27,"s":33,"v":36},{"a":90,"b":100,"r":33,"s":39,"v":43},{"a":90,"b":100,"r":39,"s":45,"v":50},{"a":90,"b":100,"r":45,"s":51,"v":59},{"a":90,"b":100,"r":51,"s":57,"v":67},{"a":90,"b":100,"r":57,"s":63,"v":76},{"a":90,"b":100,"r":63,"s":69,"v":85},{"a":90,"b":100,"r":69,"s":75,"v":92},{"a":90,"b":100,"r":75,"s":81,"v":97},{"a":90,"b":100,"r":81,"s":87,"v":100},{"a":90,"b":100,"r":87,"s":90,"v":100},
{"a":100,"b":110,"r":0,"s":3,"v":20},{"a":100,"b":110,"r":3,"s":9,"v":22},{"a":100,"b":110,"r":9,"s":15,"v":26},{"a":100,"b":110,"r":15,"s":21,"v":30},{"a":100,"b":110,"r":21,"s":27,"v":36},{"a":100,"b":110,"r":27,"s":33,"v":43},{"a":100,"b":110,"r":33,"s":39,"v":50},{"a":100,"b":110,"r":39,"s":45,"v":59},{"a":100,"b":110,"r":45,"s":51,"v":68},{"a":100,"b":110,"r":51,"s":57,"v":77},{"a":100,"b":110,"r":57,"s":63,"v":85},{"a":100,"b":110,"r":63,"s":69,"v":92},{"a":100,"b":110,"r":69,"s":75,"v":98},{"a":100,"b":110,"r":75,"s":81,"v":100},{"a":100,"b":110,"r":81,"s":87,"v":99},{"a":100,"b":110,"r":87,"s":90,"v":97},
{"a":110,"b":120,"r":0,"s":3,"v":20},{"a":110,"b":120,"r":3,"s":9,"v":23},{"a":110,"b":120,"r":9,"s":15,"v":28},{"a":110,"b":120,"r":15,"s":21,"v":34},{"a":110,"b":120,"r":21,"s":27,"v":41},{"a":110,"b":120,"r":27,"s":33,"v":49},{"a":110,"b":120,"r":33,"s":39,"v":57},{"a":110,"b":120,"r":39,"s":45,"v":67},{"a":110,"b":120,"r":45,"s":51,"v":76},{"a":110,"b":120,"r":51,"s":57,"v":85},{"a":110,"b":120,"r":57,"s":63,"v":92},{"a":110,"b":120,"r":63,"s":69,"v":98},{"a":110,"b":120,"r":69,"s":75,"v":100},{"a":110,"b":120,"r":75,"s":81,"v":99},{"a":110,"b":120,"r":81,"s":87,"v":95},{"a":110,"b":120,"r":87,"s":90,"v":91},
{"a":120,"b":130,"r":0,"s":3,"v":21},{"a":120,"b":130,"r":3,"s":9,"v":24},{"a":120,"b":130,"r":9,"s":15,"v":30},{"a":120,"b":130,"r":15,"s":21,"v":37},{"a":120,"b":130,"r":21,"s":27,"v":45},{"a":120,"b":130,"r":27,"s":33,"v":54},{"a":120,"b":130,"r":33,"s":39,"v":64},{"a":120,"b":130,"r":39,"s":45,"v":74},{"a":120,"b":130,"r":45,"s":51,"v":83},{"a":120,"b":130,"r":51,"s":57,"v":91},{"a":120,"b":130,"r":57,"s":63,"v":97},{"a":120,"b":130,"r":63,"s":69,"v":100},{"a":120,"b":130,"r":69,"s":75,"v":99},{"a":120,"b":130,"r":75,"s":81,"v":96},{"a":120,"b":130,"r":81,"s":87,"v":89},{"a":120,"b":130,"r":87,"s":90,"v":83},
{"a":130,"b":140,"r":0,"s":3,"v":21},{"a":130,"b":140,"r":3,"s":9,"v":25},{"a":130,"b":140,"r":9,"s":15,"v":32},{"a":130,"b":140,"r":15,"s":21,"v":40},{"a":130,"b":140,"r":21,"s":27,"v":49},{"a":130,"b":140,"r":27,"s":33,"v":59},{"a":130,"b":140,"r":33,"s":39,"v":69},{"a":130,"b":140,"r":39,"s":45,"v":80},{"a":130,"b":140,"r":45,"s":51,"v":89},{"a":130,"b":140,"r":51,"s":57,"v":95},{"a":130,"b":140,"r":57,"s":63,"v":99},{"a":130,"b":140,"r":63,"s":69,"v":100},{"a":130,"b":140,"r":69,"s":75,"v":97},{"a":130,"b":140,"r":75,"s":81,"v":90},{"a":130,"b":140,"r":81,"s":87,"v":82},{"a":130,"b":140,"r":87,"s":90,"v":74},
{"a":140,"b":150,"r":0,"s":3,"v":21},{"a":140,"b":150,"r":3,"s":9,"v":26},{"a":140,"b":150,"r":9,"s":15,"v":34},{"a":140,"b":150,"r":15,"s":21,"v":43},{"a":140,"b":150,"r":21,"s":27,"v":53},{"a":140,"b":150,"r":27,"s":33,"v":63},{"a":140,"b":150,"r":33,"s":39,"v":74},{"a":140,"b":150,"r":39,"s":45,"v":84},{"a":140,"b":150,"r":45,"s":51,"v":92},{"a":140,"b":150,"r":51,"s":57,"v":98},{"a":140,"b":150,"r":57,"s":63,"v":100},{"a":140,"b":150,"r":63,"s":69,"v":98},{"a":140,"b":150,"r":69,"s":75,"v":93},{"a":140,"b":150,"r":75,"s":81,"v":85},{"a":140,"b":150,"r":81,"s":87,"v":75},{"a":140,"b":150,"r":87,"s":90,"v":67},
{"a":150,"b":160,"r":0,"s":3,"v":21},{"a":150,"b":160,"r":3,"s":9,"v":27},{"a":150,"b":160,"r":9,"s":15,"v":35},{"a":150,"b":160,"r":15,"s":21,"v":45},{"a":150,"b":160,"r":21,"s":27,"v":55},{"a":150,"b":160,"r":27,"s":33,"v":66},{"a":150,"b":160,"r":33,"s":39,"v":77},{"a":150,"b":160,"r":39,"s":45,"v":87},{"a":150,"b":160,"r":45,"s":51,"v":95},{"a":150,"b":160,"r":51,"s":57,"v":99},{"a":150,"b":160,"r":57,"s":63,"v":100},{"a":150,"b":160,"r":63,"s":69,"v":96},{"a":150,"b":160,"r":69,"s":75,"v":89},{"a":150,"b":160,"r":75,"s":81,"v":79},{"a":150,"b":160,"r":81,"s":87,"v":69},{"a":150,"b":160,"r":87,"s":90,"v":60},
{"a":160,"b":170,"r":0,"s":3,"v":21},{"a":160,"b":170,"r":3,"s":9,"v":27},{"a":160,"b":170,"r":9,"s":15,"v":36},{"a":160,"b":170,"r":15,"s":21,"v":46},{"a":160,"b":170,"r":21,"s":27,"v":57},{"a":160,"b":170,"r":27,"s":33,"v":68},{"a":160,"b":170,"r":33,"s":39,"v":80},{"a":160,"b":170,"r":39,"s":45,"v":89},{"a":160,"b":170,"r":45,"s":51,"v":96},{"a":160,"b":170,"r":51,"s":57,"v":100},{"a":160,"b":170,"r":57,"s":63,"v":99},{"a":160,"b":170,"r":63,"s":69,"v":94},{"a":160,"b":170,"r":69,"s":75,"v":86},{"a":160,"b":170,"r":75,"s":81,"v":76},{"a":160,"b":170,"r":81,"s":87,"v":64},{"a":160,"b":170,"r":87,"s":90,"v":56},
{"a":170,"b":180,"r":0,"s":3,"v":21},{"a":170,"b":180,"r":3,"s":9,"v":27},{"a":170,"b":180,"r":9,"s":15,"v":36},{"a":170,"b":180,"r":15,"s":21,"v":47},{"a":170,"b":180,"r":21,"s":27,"v":58},{"a":170,"b":180,"r":27,"s":33,"v":70},{"a":170,"b":180,"r":33,"s":39,"v":81},{"a":170,"b":180,"r":39,"s":45,"v":90},{"a":170,"b":180,"r":45,"s":51,"v":97},{"a":170,"b":180,"r":51,"s":57,"v":100},{"a":170,"b":180,"r":57,"s":63,"v":99},{"a":170,"b":180,"r":63,"s":69,"v":93},{"a":170,"b":180,"r":69,"s":75,"v":84},{"a":170,"b":180,"r":75,"s":81,"v":74},{"a":170,"b":180,"r":81,"s":87,"v":62},{"a":170,"b":180,"r":87,"s":90,"v":54},
{"a":180,"b":190,"r":0,"s":3,"v":21},{"a":180,"b":190,"r":3,"s":9,"v":27},{"a":180,"b":190,"r":9,"s":15,"v":36},{"a":180,"b":190,"r":15,"s":21,"v":47},{"a":180,"b":190,"r":21,"s":27,"v":58},{"a":180,"b":190,"r":27,"s":33,"v":70},{"a":180,"b":190,"r":33,"s":39,"v":81},{"a":180,"b":190,"r":39,"s":45,"v":90},{"a":180,"b":190,"r":45,"s":51,"v":97},{"a":180,"b":190,"r":51,"s":57,"v":100},{"a":180,"b":190,"r":57,"s":63,"v":99},{"a":180,"b":190,"r":63,"s":69,"v":93},{"a":180,"b":190,"r":69,"s":75,"v":84},{"a":180,"b":190,"r":75,"s":81,"v":74},{"a":180,"b":190,"r":81,"s":87,"v":62},{"a":180,"b":190,"r":87,"s":90,"v":54},
{"a":190,"b":200,"r":0,"s":3,"v":21},{"a":190,"b":200,"r":3,"s":9,"v":27},{"a":190,"b":200,"r":9,"s":15,"v":36},{"a":190,"b":200,"r":15,"s":21,"v":46},{"a":190,"b":200,"r":21,"s":27,"v":57},{"a":190,"b":200,"r":27,"s":33,"v":68},{"a":190,"b":200,"r":33,"s":39,"v":80},{"a":190,"b":200,"r":39,"s":45,"v":89},{"a":190,"b":200,"r":45,"s":51,"v":96},{"a":190,"b":200,"r":51,"s":57,"v":100},{"a":190,"b":200,"r":57,"s":63,"v":99},{"a":190,"b":200,"r":63,"s":69,"v":94},{"a":190,"b":200,"r":69,"s":75,"v":86},{"a":190,"b":200,"r":75,"s":81,"v":76},{"a":190,"b":200,"r":81,"s":87,"v":64},{"a":190,"b":200,"r":87,"s":90,"v":56},
{"a":200,"b":210,"r":0,"s":3,"v":21},{"a":200,"b":210,"r":3,"s":9,"v":27},{"a":200,"b":210,"r":9,"s":15,"v":35},{"a":200,"b":210,"r":15,"s":21,"v":45},{"a":200,"b":210,"r":21,"s":27,"v":55},{"a":200,"b":210,"r":27,"s":33,"v":66},{"a":200,"b":210,"r":33,"s":39,"v":77},{"a":200,"b":210,"r":39,"s":45,"v":87},{"a":200,"b":210,"r":45,"s":51,"v":95},{"a":200,"b":210,"r":51,"s":57,"v":99},{"a":200,"b":210,"r":57,"s":63,"v":100},{"a":200,"b":210,"r":63,"s":69,"v":96},{"a":200,"b":210,"r":69,"s":75,"v":89},{"a":200,"b":210,"r":75,"s":81,"v":79},{"a":200,"b":210,"r":81,"s":87,"v":69},{"a":200,"b":210,"r":87,"s":90,"v":60},
{"a":210,"b":220,"r":0,"s":3,"v":21},{"a":210,"b":220,"r":3,"s":9,"v":26},{"a":210,"b":220,"r":9,"s":15,"v":34},{"a":210,"b":220,"r":15,"s":21,"v":43},{"a":210,"b":220,"r":21,"s":27,"v":53},{"a":210,"b":220,"r":27,"s":33,"v":63},{"a":210,"b":220,"r":33,"s":39,"v":74},{"a":210,"b":220,"r":39,"s":45,"v":84},{"a":210,"b":220,"r":45,"s":51,"v":92},{"a":210,"b":220,"r":51,"s":57,"v":98},{"a":210,"b":220,"r":57,"s":63,"v":100},{"a":210,"b":220,"r":63,"s":69,"v":98},{"a":210,"b":220,"r":69,"s":75,"v":93},{"a":210,"b":220,"r":75,"s":81,"v":85},{"a":210,"b":220,"r":81,"s":87,"v":75},{"a":210,"b":220,"r":87,"s":90,"v":67},
{"a":220,"b":230,"r":0,"s":3,"v":21},{"a":220,"b":230,"r":3,"s":9,"v":25},{"a":220,"b":230,"r":9,"s":15,"v":32},{"a":220,"b":230,"r":15,"s":21,"v":40},{"a":220,"b":230,"r":21,"s":27,"v":49},{"a":220,"b":230,"r":27,"s":33,"v":59},{"a":220,"b":230,"r":33,"s":39,"v":69},{"a":220,"b":230,"r":39,"s":45,"v":80},{"a":220,"b":230,"r":45,"s":51,"v":89},{"a":220,"b":230,"r":51,"s":57,"v":95},{"a":220,"b":230,"r":57,"s":63,"v":99},{"a":220,"b":230,"r":63,"s":69,"v":100},{"a":220,"b":230,"r":69,"s":75,"v":97},{"a":220,"b":230,"r":75,"s":81,"v":90},{"a":220,"b":230,"r":81,"s":87,"v":82},{"a":220,"b":230,"r":87,"s":90,"v":74},
{"a":230,"b":240,"r":0,"s":3,"v":21},{"a":230,"b":240,"r":3,"s":9,"v":24},{"a":230,"b":240,"r":9,"s":15,"v":30},{"a":230,"b":240,"r":15,"s":21,"v":37},{"a":230,"b":240,"r":21,"s":27,"v":45},{"a":230,"b":240,"r":27,"s":33,"v":54},{"a":230,"b":240,"r":33,"s":39,"v":64},{"a":230,"b":240,"r":39,"s":45,"v":74},{"a":230,"b":240,"r":45,"s":51,"v":83},{"a":230,"b":240,"r":51,"s":57,"v":91},{"a":230,"b":240,"r":57,"s":63,"v":97},{"a":230,"b":240,"r":63,"s":69,"v":100},{"a":230,"b":240,"r":69,"s":75,"v":99},{"a":230,"b":240,"r":75,"s":81,"v":96},{"a":230,"b":240,"r":81,"s":87,"v":89},{"a":230,"b":240,"r":87,"s":90,"v":83},
{"a":240,"b":250,"r":0,"s":3,"v":20},{"a":240,"b":250,"r":3,"s":9,"v":23},{"a":240,"b":250,"r":9,"s":15,"v":28},{"a":240,"b":250,"r":15,"s":21,"v":34},{"a":240,"b":250,"r":21,"s":27,"v":41},{"a":240,"b":250,"r":27,"s":33,"v":49},{"a":240,"b":250,"r":33,"s":39,"v":57},{"a":240,"b":250,"r":39,"s":45,"v":67},{"a":240,"b":250,"r":45,"s":51,"v":76},{"a":240,"b":250,"r":51,"s":57,"v":85},{"a":240,"b":250,"r":57,"s":63,"v":92},{"a":240,"b":250,"r":63,"s":69,"v":98},{"a":240,"b":250,"r":69,"s":75,"v":100},{"a":240,"b":250,"r":75,"s":81,"v":99},{"a":240,"b":250,"r":81,"s":87,"v":95},{"a":240,"b":250,"r":87,"s":90,"v":91},
{"a":250,"b":260,"r":0,"s":3,"v":20},{"a":250,"b":260,"r":3,"s":9,"v":22},{"a":250,"b":260,"r":9,"s":15,"v":26},{"a":250,"b":260,"r":15,"s":21,"v":30},{"a":250,"b":260,"r":21,"s":27,"v":36},{"a":250,"b":260,"r":27,"s":33,"v":43},{"a":250,"b":260,"r":33,"s":39,"v":50},{"a":250,"b":260,"r":39,"s":45,"v":59},{"a":250,"b":260,"r":45,"s":51,"v":68},{"a":250,"b":260,"r":51,"s":57,"v":77},{"a":250,"b":260,"r":57,"s":63,"v":85},{"a":250,"b":260,"r":63,"s":69,"v":92},{"a":250,"b":260,"r":69,"s":75,"v":98},{"a":250,"b":260,"r":75,"s":81,"v":100},{"a":250,"b":260,"r":81,"s":87,"v":99},{"a":250,"b":260,"r":87,"s":90,"v":97},
{"a":260,"b":270,"r":0,"s":3,"v":20},{"a":260,"b":270,"r":3,"s":9,"v":21},{"a":260,"b":270,"r":9,"s":15,"v":23},{"a":260,"b":270,"r":15,"s":21,"v":26},{"a":260,"b":270,"r":21,"s":27,"v":31},{"a":260,"b":270,"r":27,"s":33,"v":36},{"a":260,"b":270,"r":33,"s":39,"v":43},{"a":260,"b":270,"r":39,"s":45,"v":50},{"a":260,"b":270,"r":45,"s":51,"v":59},{"a":260,"b":270,"r":51,"s":57,"v":67},{"a":260,"b":270,"r":57,"s":63,"v":76},{"a":260,"b":270,"r":63,"s":69,"v":85},{"a":260,"b":270,"r":69,"s":75,"v":92},{"a":260,"b":270,"r":75,"s":81,"v":97},{"a":260,"b":270,"r":81,"s":87,"v":100},{"a":260,"b":270,"r":87,"s":90,"v":100},
{"a":270,"b":280,"r":0,"s":3,"v":20},{"a":270,"b":280,"r":3,"s":9,"v":20},{"a":270,"b":280,"r":9,"s":15,"v":21},{"a":270,"b":280,"r":15,"s":21,"v":23},{"a":270,"b":280,"r":21,"s":27,"v":26},{"a":270,"b":280,"r":27,"s":33,"v":30},{"a":270,"b":280,"r":33,"s":39,"v":35},{"a":270,"b":280,"r":39,"s":45,"v":42},{"a":270,"b":280,"r":45,"s":51,"v":49},{"a":270,"b":280,"r":51,"s":57,"v":57},{"a":270,"b":280,"r":57,"s":63,"v":66},{"a":270,"b":280,"r":63,"s":69,"v":75},{"a":270,"b":280,"r":69,"s":75,"v":83},{"a":270,"b":280,"r":75,"s":81,"v":91},{"a":270,"b":280,"r":81,"s":87,"v":96},{"a":270,"b":280,"r":87,"s":90,"v":99},
{"a":280,"b":290,"r":0,"s":3,"v":19},{"a":280,"b":290,"r":3,"s":9,"v":18},{"a":280,"b":290,"r":9,"s":15,"v":18},{"a":280,"b":290,"r":15,"s":21,"v":19},{"a":280,"b":290,"r":21,"s":27,"v":21},{"a":280,"b":290,"r":27,"s":33,"v":24},{"a":280,"b":290,"r":33,"s":39,"v":28},{"a":280,"b":290,"r":39,"s":45,"v":33},{"a":280,"b":290,"r":45,"s":51,"v":40},{"a":280,"b":290,"r":51,"s":57,"v":47},{"a":280,"b":290,"r":57,"s":63,"v":55},{"a":280,"b":290,"r":63,"s":69,"v":64},{"a":280,"b":290,"r":69,"s":75,"v":73},{"a":280,"b":290,"r":75,"s":81,"v":82},{"a":280,"b":290,"r":81,"s":87,"v":90},{"a":280,"b":290,"r":87,"s":90,"v":94},
{"a":290,"b":300,"r":0,"s":3,"v":19},{"a":290,"b":300,"r":3,"s":9,"v":17},{"a":290,"b":300,"r":9,"s":15,"v":16},{"a":290,"b":300,"r":15,"s":21,"v":16},{"a":290,"b":300,"r":21,"s":27,"v":16},{"a":290,"b":300,"r":27,"s":33,"v":18},{"a":290,"b":300,"r":33,"s":39,"v":21},{"a":290,"b":300,"r":39,"s":45,"v":25},{"a":290,"b":300,"r":45,"s":51,"v":31},{"a":290,"b":300,"r":51,"s":57,"v":37},{"a":290,"b":300,"r":57,"s":63,"v":45},{"a":290,"b":300,"r":63,"s":69,"v":53},{"a":290,"b":300,"r":69,"s":75,"v":62},{"a":290,"b":300,"r":75,"s":81,"v":72},{"a":290,"b":300,"r":81,"s":87,"v":81},{"a":290,"b":300,"r":87,"s":90,"v":87},
{"a":300,"b":310,"r":0,"s":3,"v":19},{"a":300,"b":310,"r":3,"s":9,"v":16},{"a":300,"b":310,"r":9,"s":15,"v":14},{"a":300,"b":310,"r":15,"s":21,"v":13},{"a":300,"b":310,"r":21,"s":27,"v":12},{"a":300,"b":310,"r":27,"s":33,"v":13},{"a":300,"b":310,"r":33,"s":39,"v":15},{"a":300,"b":310,"r":39,"s":45,"v":19},{"a":300,"b":310,"r":45,"s":51,"v":23},{"a":300,"b":310,"r":51,"s":57,"v":28},{"a":300,"b":310,"r":57,"s":63,"v":35},{"a":300,"b":310,"r":63,"s":69,"v":43},{"a":300,"b":310,"r":69,"s":75,"v":51},{"a":300,"b":310,"r":75,"s":81,"v":61},{"a":300,"b":310,"r":81,"s":87,"v":71},{"a":300,"b":310,"r":87,"s":90,"v":78},
{"a":310,"b":320,"r":0,"s":3,"v":18},{"a":310,"b":320,"r":3,"s":9,"v":15},{"a":310,"b":320,"r":9,"s":15,"v":12},{"a":310,"b":320,"r":15,"s":21,"v":10},{"a":310,"b":320,"r":21,"s":27,"v":9},{"a":310,"b":320,"r":27,"s":33,"v":9},{"a":310,"b":320,"r":33,"s":39,"v":10},{"a":310,"b":320,"r":39,"s":45,"v":13},{"a":310,"b":320,"r":45,"s":51,"v":16},{"a":310,"b":320,"r":51,"s":57,"v":21},{"a":310,"b":320,"r":57,"s":63,"v":27},{"a":310,"b":320,"r":63,"s":69,"v":34},{"a":310,"b":320,"r":69,"s":75,"v":42},{"a":310,"b":320,"r":75,"s":81,"v":51},{"a":310,"b":320,"r":81,"s":87,"v":61},{"a":310,"b":320,"r":87,"s":90,"v":69},
{"a":320,"b":330,"r":0,"s":3,"v":18},{"a":320,"b":330,"r":3,"s":9,"v":15},{"a":320,"b":330,"r":9,"s":15,"v":11},{"a":320,"b":330,"r":15,"s":21,"v":8},{"a":320,"b":330,"r":21,"s":27,"v":6},{"a":320,"b":330,"r":27,"s":33,"v":6},{"a":320,"b":330,"r":33,"s":39,"v":6},{"a":320,"b":330,"r":39,"s":45,"v":8},{"a":320,"b":330,"r":45,"s":51,"v":11},{"a":320,"b":330,"r":51,"s":57,"v":15},{"a":320,"b":330,"r":57,"s":63,"v":20},{"a":320,"b":330,"r":63,"s":69,"v":26},{"a":320,"b":330,"r":69,"s":75,"v":34},{"a":320,"b":330,"r":75,"s":81,"v":43},{"a":320,"b":330,"r":81,"s":87,"v":53},{"a":320,"b":330,"r":87,"s":90,"v":61},
{"a":330,"b":340,"r":0,"s":3,"v":18},{"a":330,"b":340,"r":3,"s":9,"v":14},{"a":330,"b":340,"r":9,"s":15,"v":9},{"a":330,"b":340,"r":15,"s":21,"v":6},{"a":330,"b":340,"r":21,"s":27,"v":4},{"a":330,"b":340,"r":27,"s":33,"v":3},{"a":330,"b":340,"r":33,"s":39,"v":3},{"a":330,"b":340,"r":39,"s":45,"v":4},{"a":330,"b":340,"r":45,"s":51,"v":7},{"a":330,"b":340,"r":51,"s":57,"v":10},{"a":330,"b":340,"r":57,"s":63,"v":15},{"a":330,"b":340,"r":63,"s":69,"v":21},{"a":330,"b":340,"r":69,"s":75,"v":28},{"a":330,"b":340,"r":75,"s":81,"v":37},{"a":330,"b":340,"r":81,"s":87,"v":47},{"a":330,"b":340,"r":87,"s":90,"v":55},
{"a":340,"b":350,"r":0,"s":3,"v":18},{"a":340,"b":350,"r":3,"s":9,"v":14},{"a":340,"b":350,"r":9,"s":15,"v":9},{"a":340,"b":350,"r":15,"s":21,"v":5},{"a":340,"b":350,"r":21,"s":27,"v":3},{"a":340,"b":350,"r":27,"s":33,"v":1},{"a":340,"b":350,"r":33,"s":39,"v":1},{"a":340,"b":350,"r":39,"s":45,"v":2},{"a":340,"b":350,"r":45,"s":51,"v":4},{"a":340,"b":350,"r":51,"s":57,"v":7},{"a":340,"b":350,"r":57,"s":63,"v":12},{"a":340,"b":350,"r":63,"s":69,"v":17},{"a":340,"b":350,"r":69,"s":75,"v":24},{"a":340,"b":350,"r":75,"s":81,"v":33},{"a":340,"b":350,"r":81,"s":87,"v":42},{"a":340,"b":350,"r":87,"s":90,"v":50},
{"a":350,"b":360,"r":0,"s":3,"v":18},{"a":350,"b":360,"r":3,"s":9,"v":13},{"a":350,"b":360,"r":9,"s":15,"v":8},{"a":350,"b":360,"r":15,"s":21,"v":5},{"a":350,"b":360,"r":21,"s":27,"v":2},{"a":350,"b":360,"r":27,"s":33,"v":0},{"a":350,"b":360,"r":33,"s":39,"v":0},{"a":350,"b":360,"r":39,"s":45,"v":1},{"a":350,"b":360,"r":45,"s":51,"v":3},{"a":350,"b":360,"r":51,"s":57,"v":6},{"a":350,"b":360,"r":57,"s":63,"v":10},{"a":350,"b":360,"r":63,"s":69,"v":16},{"a":350,"b":360,"r":69,"s":75,"v":22},{"a":350,"b":360,"r":75,"s":81,"v":31},{"a":350,"b":360,"r":81,"s":87,"v":40},{"a":350,"b":360,"r":87,"s":90,"v":48}
],
"spokes": [{"angle":0},{"angle":30},{"angle":60},{"angle":90},{"angle":120},{"angle":150},{"angle":180},{"angle":210},{"angle":240},{"angle":270},{"angle":300},{"angle":330}],
"labels": [{"angle":0,"label":"0°"},{"angle":30,"label":"30°"},{"angle":60,"label":"60°"},{"angle":90,"label":"90°"},{"angle":120,"label":"120°"},{"angle":150,"label":"150°"},{"angle":180,"label":"180°"},{"angle":210,"label":"210°"},{"angle":240,"label":"240°"},{"angle":270,"label":"270°"},{"angle":300,"label":"300°"},{"angle":330,"label":"330°"}],
"rlabels": [{"r":0,"label":"0"},{"r":60,"label":"60"},{"r":90,"label":"90"}],
"sun": [{"x":0,"y":35}]
},
"layer": [
{"data": {"name": "cellsA"},
 "mark": {"type": "arc", "strokeWidth": 1},
 "encoding": {
  "theta": {"field": "a", "type": "quantitative", "stack": false, "scale": {"domain": [0, 360], "range": [6.283185307, 0], "zero": false, "nice": false}},
  "theta2": {"field": "b"},
  "radius": {"field": "s", "type": "quantitative", "scale": {"type": "linear", "domain": [0, 90], "range": [0, 184.8], "zero": true, "nice": false}},
  "radius2": {"field": "r"},
  "color": {"field": "v", "type": "quantitative", "scale": {"domain": [0, 37.5, 75, 100], "range": ["#000000", "#515171", "#a6c6c6", "#ffffff"], "interpolate": "rgb", "zero": false, "nice": false}, "legend": null},
  "stroke": {"field": "v", "type": "quantitative", "scale": {"domain": [0, 37.5, 75, 100], "range": ["#000000", "#515171", "#a6c6c6", "#ffffff"], "interpolate": "rgb", "zero": false, "nice": false}, "legend": null}
 }},
{"data": {"name": "cellsB"},
 "mark": {"type": "arc", "opacity": 0.5},
 "encoding": {
  "theta": {"field": "a", "type": "quantitative", "stack": false},
  "theta2": {"field": "b"},
  "radius": {"field": "s", "type": "quantitative"},
  "radius2": {"field": "r"},
  "color": {"field": "v", "type": "quantitative", "legend": null}
 }},
{"data": {"values": [{"k": 1}]},
 "mark": {"type": "arc", "filled": false, "fill": null, "stroke": "#b0b0b0", "strokeWidth": 1.1},
 "encoding": {
  "theta": {"datum": 0, "type": "quantitative", "stack": false},
  "theta2": {"datum": 360},
  "radius": {"datum": 30, "type": "quantitative"}
 }},
{"data": {"values": [{"k": 2}]},
 "mark": {"type": "arc", "filled": false, "fill": null, "stroke": "#b0b0b0", "strokeWidth": 1.1},
 "encoding": {
  "theta": {"datum": 0, "type": "quantitative", "stack": false},
  "theta2": {"datum": 360},
  "radius": {"datum": 60, "type": "quantitative"}
 }},
{"data": {"name": "spokes"},
 "mark": {"type": "arc", "filled": false, "fill": null, "stroke": "#b0b0b0", "strokeWidth": 1.1},
 "encoding": {
  "theta": {"field": "angle", "type": "quantitative", "stack": false},
  "theta2": {"field": "angle"},
  "radius": {"datum": 90, "type": "quantitative"}
 }},
{"data": {"values": [{"k": 3}]},
 "mark": {"type": "arc", "filled": false, "fill": null, "stroke": "#000000", "strokeWidth": 1.1},
 "encoding": {
  "theta": {"datum": 0, "type": "quantitative", "stack": false},
  "theta2": {"datum": 360},
  "radius": {"datum": 90, "type": "quantitative"}
 }},
{"data": {"name": "labels"},
 "mark": {"type": "text", "font": "DejaVu Sans", "fontSize": 13.9, "color": "#000000", "align": "center", "baseline": "middle"},
 "encoding": {
  "theta": {"field": "angle", "type": "quantitative", "stack": false},
  "radius": {"datum": 99.4, "type": "quantitative"},
  "text": {"field": "label"}
 }},
{"data": {"name": "rlabels"},
 "mark": {"type": "text", "font": "DejaVu Sans", "fontSize": 13.9, "color": "#000000", "align": "left", "baseline": "bottom"},
 "encoding": {
  "theta": {"datum": 22.5, "type": "quantitative", "stack": false},
  "radius": {"field": "r", "type": "quantitative"},
  "text": {"field": "label"}
 }},
{"data": {"name": "sun"},
 "mark": {"type": "circle", "size": 55, "color": "#ffff00", "opacity": 1},
 "encoding": {
  "x": {"field": "x", "type": "quantitative", "axis": null, "scale": {"domain": [-90, 90], "range": [143.2, 512.8], "nice": false, "zero": false}},
  "y": {"field": "y", "type": "quantitative", "axis": null, "scale": {"domain": [-90, 90], "range": [427.2, 57.6], "nice": false, "zero": false}}
 }}
]
}
